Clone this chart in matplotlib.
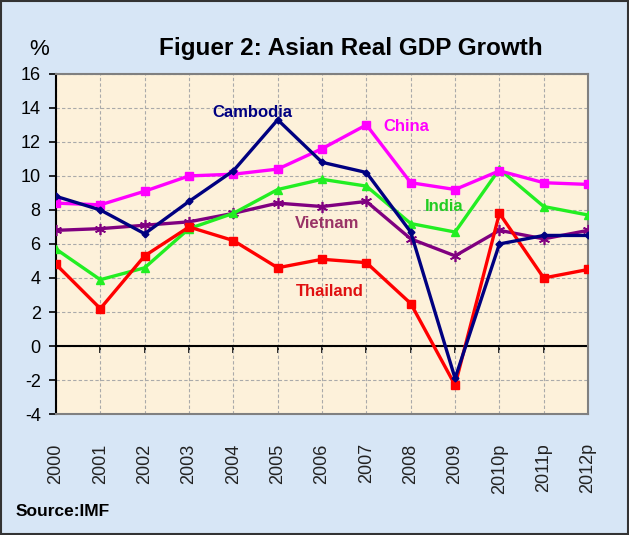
import matplotlib
matplotlib.use("Agg")
import matplotlib.pyplot as plt
from matplotlib.patches import Rectangle

plt.rcParams["axes.unicode_minus"] = False

YEARS = ["2000", "2001", "2002", "2003", "2004", "2005", "2006",
         "2007", "2008", "2009", "2010p", "2011p", "2012p"]

CAMBODIA = [8.8, 8.0, 6.6, 8.5, 10.3, 13.3, 10.8, 10.2, 6.7, -1.9, 6.0, 6.5, 6.5]
CHINA    = [8.4, 8.3, 9.1, 10.0, 10.1, 10.4, 11.6, 13.0, 9.6, 9.2, 10.3, 9.6, 9.5]
INDIA    = [5.7, 3.9, 4.6, 6.9, 7.8, 9.2, 9.8, 9.4, 7.2, 6.7, 10.4, 8.2, 7.7]
VIETNAM  = [6.8, 6.9, 7.1, 7.3, 7.8, 8.4, 8.2, 8.5, 6.3, 5.3, 6.8, 6.3, 6.8]
THAILAND = [4.8, 2.2, 5.3, 7.0, 6.2, 4.6, 5.1, 4.9, 2.5, -2.3, 7.8, 4.0, 4.5]

SANS = ["Liberation Sans", "DejaVu Sans"]

BG = "#d7e6f6"
PLOT_BG = "#fdf1da"

fig = plt.figure(figsize=(6.29, 5.35), dpi=100, facecolor=BG)
ax = fig.add_axes([0.089, 0.226, 0.846, 0.636], facecolor=PLOT_BG)

x = list(range(len(YEARS)))

ax.axhline(0, color="black", lw=1.5, zorder=2.5)

# draw order roughly as in the reference
ax.plot(x, VIETNAM, color="#800080", lw=2.4, marker=(6, 2, 0), ms=8, mew=1.2, zorder=3)
ax.plot(x, INDIA, color="#22ee22", lw=2.4, marker="^", ms=6, zorder=3)
ax.plot(x, CHINA, color="#ff00ff", lw=2.4, marker="s", ms=6, zorder=3)
ax.plot(x, THAILAND, color="#ff0000", lw=2.4, marker="s", ms=6, zorder=4)
ax.plot(x, CAMBODIA, color="#000080", lw=2.4, marker="D", ms=3.5, zorder=4)

# series labels
lab = dict(fontsize=12, fontweight="bold", family=SANS, ha="center", va="center")
ax.text(4.42, 13.7, "Cambodia", color="#000080", **lab)
ax.text(7.9, 12.9, "China", color="#ff00ff", **lab)
ax.text(8.76, 8.2, "India", color="#22cc22", **lab)
ax.text(6.12, 7.2, "Vietnam", color="#993366", **lab)
ax.text(6.18, 3.2, "Thailand", color="#e01010", **lab)

ax.set_xlim(0, len(YEARS) - 1)
ax.set_ylim(-4, 16)
ax.set_yticks(range(-4, 17, 2))
ax.set_xticks(x)
ax.set_xticklabels(YEARS, rotation=90, fontsize=13, family=SANS, color="#222222")
ax.tick_params(axis="x", length=0, pad=21)
ax.tick_params(axis="y", direction="out", length=5, width=1.2, labelsize=13,
               colors="black", pad=6)
for t in ax.get_yticklabels():
    t.set_family(SANS)

ax.grid(True, ls=(0, (3, 2)), color="#aaaaaa", lw=0.8)
ax.set_axisbelow(True)

for side in ["top", "right", "bottom"]:
    ax.spines[side].set_color("#808080")
    ax.spines[side].set_linewidth(1.5)
ax.spines["left"].set_color("black")
ax.spines["left"].set_linewidth(1.5)

# category axis crossing at zero
sec = ax.secondary_xaxis(4 / 20)
sec.set_xticks(x)
sec.set_xticklabels([""] * len(x))
sec.tick_params(direction="out", length=5, width=1.2, colors="black")
sec.spines["bottom"].set_visible(False)

fig.text(0.558, 0.91, "Figuer 2: Asian Real GDP Growth", fontsize=17.5,
         fontweight="bold", family=SANS, ha="center", va="center")
fig.text(0.062, 0.907, "%", fontsize=16, family=SANS, ha="center", va="center")
fig.text(0.024, 0.043, "Source:IMF", fontsize=12.5, fontweight="bold",
         family=SANS, ha="left", va="center")

fig.patches.append(Rectangle((0.002, 0.002), 0.996, 0.996, transform=fig.transFigure,
                             fill=False, edgecolor="#333333", lw=1.5))

fig.savefig("out.png", dpi=100, facecolor=BG)
